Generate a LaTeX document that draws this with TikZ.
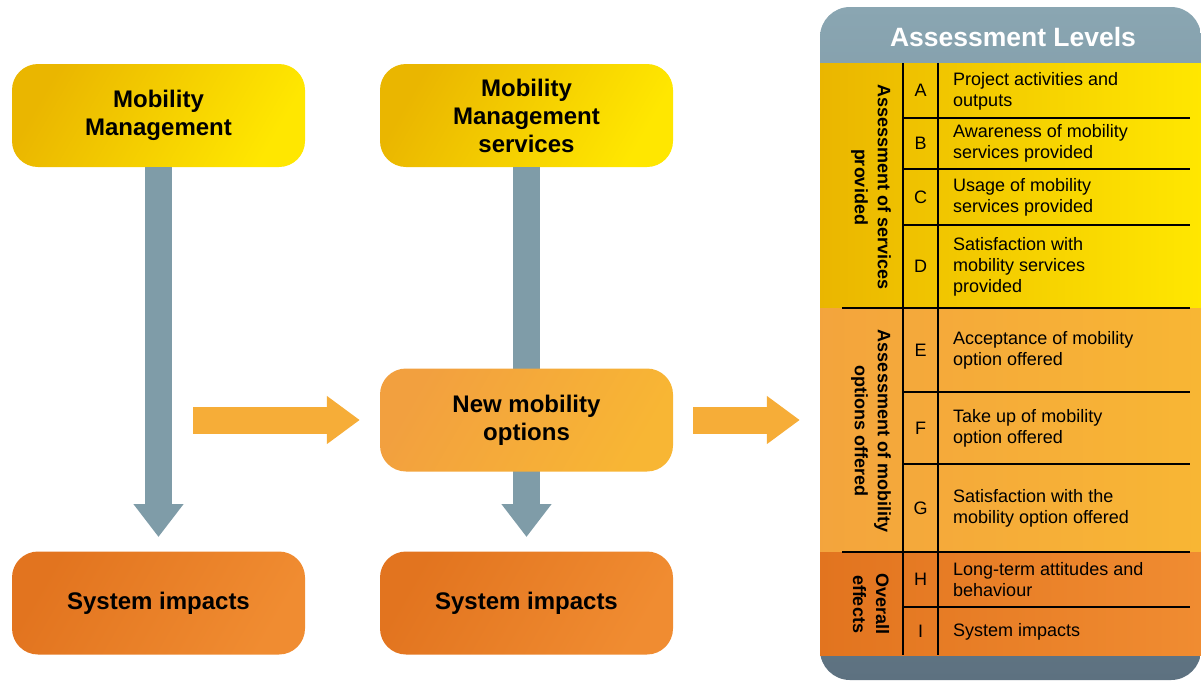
\documentclass[tikz,border=0pt]{standalone}
\usepackage{fontspec}
\setmainfont{Liberation Sans}
\usetikzlibrary{arrows.meta}
\definecolor{goldA}{HTML}{EAB600}
\definecolor{goldB}{HTML}{FFE700}
\definecolor{optA}{HTML}{F2A03F}
\definecolor{optB}{HTML}{F8B634}
\definecolor{impA}{HTML}{E2741F}
\definecolor{impB}{HTML}{F08C31}
\definecolor{shaftgray}{HTML}{7F9CA8}
\definecolor{panelA}{HTML}{8AA6B2}
\definecolor{panelB}{HTML}{5D7180}
\newcommand{\boxfont}{\fontsize{24}{28}\selectfont\bfseries}
\newcommand{\rowfont}{\fontsize{18}{21}\selectfont}
\begin{document}
\begin{tikzpicture}[x=1pt,y=1pt]
\tikzstyle{every node}+=[inner sep=0pt]
\tikzstyle{flowbox}=[rectangle, rounded corners=26pt, minimum width=293pt, minimum height=103pt, align=center, font=\boxfont]
\tikzstyle{topbox}=[flowbox, left color=goldA, right color=goldB, shading angle=60]
\tikzstyle{optbox}=[flowbox, left color=optA, right color=optB, shading angle=60]
\tikzstyle{impactbox}=[flowbox, left color=impA, right color=impB, shading angle=60]
\tikzstyle{grayarrow}=[draw=shaftgray, line width=27pt, -{Triangle[length=33pt,width=48pt]}, shaftgray]
\tikzstyle{orangearrow}=[draw=optB!60!optA, line width=27pt, -{Triangle[length=33pt,width=46pt]}, optB!60!optA]
\tikzstyle{rule}=[line width=2pt, black]
\tikzstyle{grouplabel}=[rotate=-90, align=center, font=\fontsize{18}{23}\selectfont\bfseries]
\tikzstyle{letter}=[font=\rowfont]
\tikzstyle{level}=[anchor=west, align=left, font=\rowfont]
\useasboundingbox (0,0) rectangle (1201,-681);

% flow on the left
\node[topbox] (mm) at (158.5,-115.5) {Mobility\\Management};
\node[topbox] (mms) at (526.5,-115.5) {Mobility\\Management\\services};
\node[impactbox] (si1) at (158.5,-603) {System impacts};
\node[impactbox] (si2) at (526.5,-603) {System impacts};
\coordinate (tip1) at (158.5,-537);
\coordinate (tip2) at (526.5,-537);
\draw[grayarrow] (mm) -- (tip1);
\draw[grayarrow] (mms) -- (tip2);
\node[optbox] (nmo) at (526.5,-420) {New mobility\\options};
\coordinate (start1) at (193,-420);
\draw[orangearrow, shorten >=20pt] (start1) -- (nmo.west);

% assessment levels
\node[rectangle, rounded corners=30pt, minimum width=381pt, minimum height=673pt, top color=panelA, bottom color=panelB] (levels) at (1010.5,-343.5) {};
\draw[orangearrow, shorten <=20pt, shorten >=20pt] (nmo.east) -- (nmo.east -| levels.west);
\node[font=\fontsize{26.5}{30}\selectfont\bfseries, text=white] (hdr) at (1013,-37) {Assessment Levels};
\fill[left color=goldA, right color=goldB] (820,-63) rectangle (1201,-308);
\fill[left color=optA!80!optB, right color=optB] (820,-308) rectangle (1201,-552);
\fill[left color=impA, right color=impB] (820,-552) rectangle (1201,-655);

\node[grouplabel] (gs) at (871,-187) {Assessment of services\\provided};
\node[grouplabel] (go) at (871,-431) {Assessment of mobility\\options offered};
\node[grouplabel] (ge) at (871,-604) {Overall\\effects};

\node[letter] (la) at (920.5,-90.5) {A};
\node[letter] (lb) at (920.5,-143.5) {B};
\node[letter] (lc) at (920.5,-197) {C};
\node[letter] (ld) at (920.5,-266.5) {D};
\node[letter] (le) at (920.5,-350) {E};
\node[letter] (lf) at (920.5,-428) {F};
\node[letter] (lg) at (920.5,-508) {G};
\node[letter] (lh) at (920.5,-579.5) {H};
\node[letter] (li) at (920.5,-631) {I};

\node[level] (ta) at (953,-91) {Project activities and\\outputs};
\node[level] (tb) at (953,-143.5) {Awareness of mobility\\services provided};
\node[level] (tc) at (953,-197) {Usage of mobility\\services provided};
\node[level] (td) at (953,-266.5) {Satisfaction with\\mobility services\\provided};
\node[level] (te) at (953,-350) {Acceptance of mobility\\option offered};
\node[level] (tf) at (953,-428) {Take up of mobility\\option offered};
\node[level] (tg) at (953,-508) {Satisfaction with the\\mobility option offered};
\node[level] (th) at (953,-579.5) {Long-term attitudes and\\behaviour};
\node[level] (ti) at (953,-632) {System impacts};

\draw[rule] (903,-63) -- (903,-655);
\draw[rule] (938,-63) -- (938,-655);
\draw[rule] (903,-118) -- (1190,-118);
\draw[rule] (903,-169) -- (1190,-169);
\draw[rule] (903,-225) -- (1190,-225);
\draw[rule] (842,-308) -- (1190,-308);
\draw[rule] (903,-392) -- (1190,-392);
\draw[rule] (903,-464) -- (1190,-464);
\draw[rule] (842,-552) -- (1190,-552);
\draw[rule] (903,-607) -- (1190,-607);
\end{tikzpicture}
\end{document}
